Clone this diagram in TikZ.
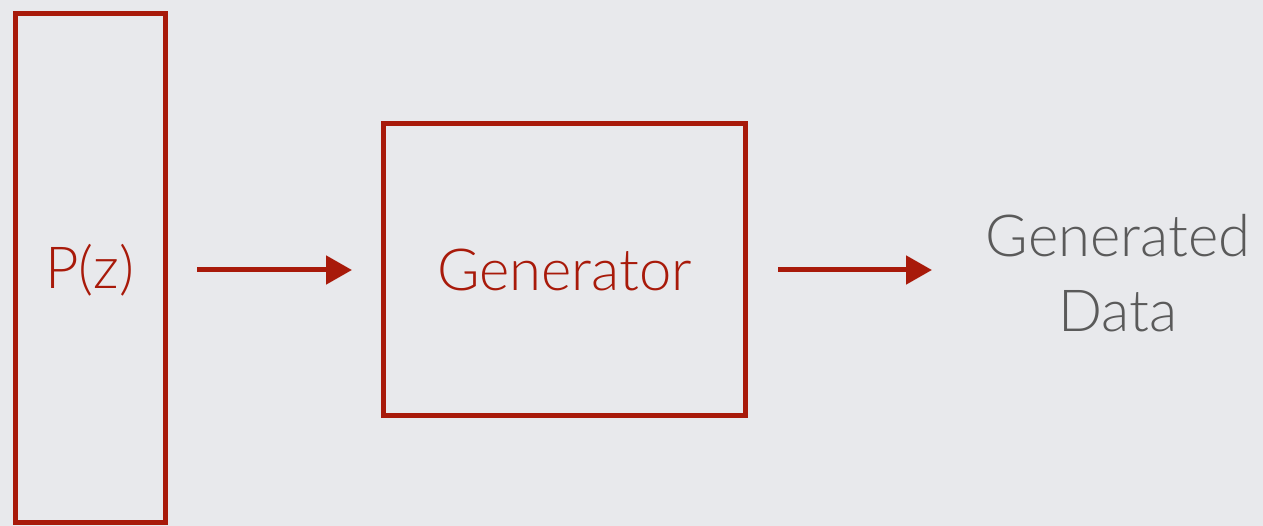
\documentclass[tikz,border=0pt]{standalone}
\usepackage{fontspec}
\setmainfont{Lato}[UprightFont=* Light]
\usetikzlibrary{arrows.meta}
\definecolor{bg}{HTML}{E8E9EC}
\definecolor{kred}{HTML}{A81A0A}
\definecolor{kgray}{HTML}{5A5A5A}
\tikzset{
  redbox/.style={draw=kred, line width=5pt},
  flow/.style={draw=kred, line width=5pt, -{Triangle[length=26pt,width=28pt]}},
  lbl/.style={font=\fontsize{58}{75}\selectfont, inner sep=0pt},
}
\begin{document}
\begin{tikzpicture}[x=1pt,y=-1pt]
\fill[bg] (0,0) rectangle (1263,526);
\useasboundingbox (0,0) rectangle (1263,526);
\draw[redbox] (15.5,13.5) rectangle (165,522);
\node[lbl, text=kred] (pz) at (90,270) {P(z)};
\draw[redbox] (383.5,123.5) rectangle (745,415);
\node[lbl, text=kred] (gen) at (564.5,270) {Generator};
\coordinate (a1s) at (197,270);
\coordinate (a1e) at (352,270);
\coordinate (a2s) at (778,270);
\coordinate (a2e) at (932,270);
\draw[flow] (a1s) -- (a1e);
\draw[flow] (a2s) -- (a2e);
\node[lbl, text=kgray, align=center] (out) at (1118,273) {Generated\\Data};
\end{tikzpicture}
\end{document}
